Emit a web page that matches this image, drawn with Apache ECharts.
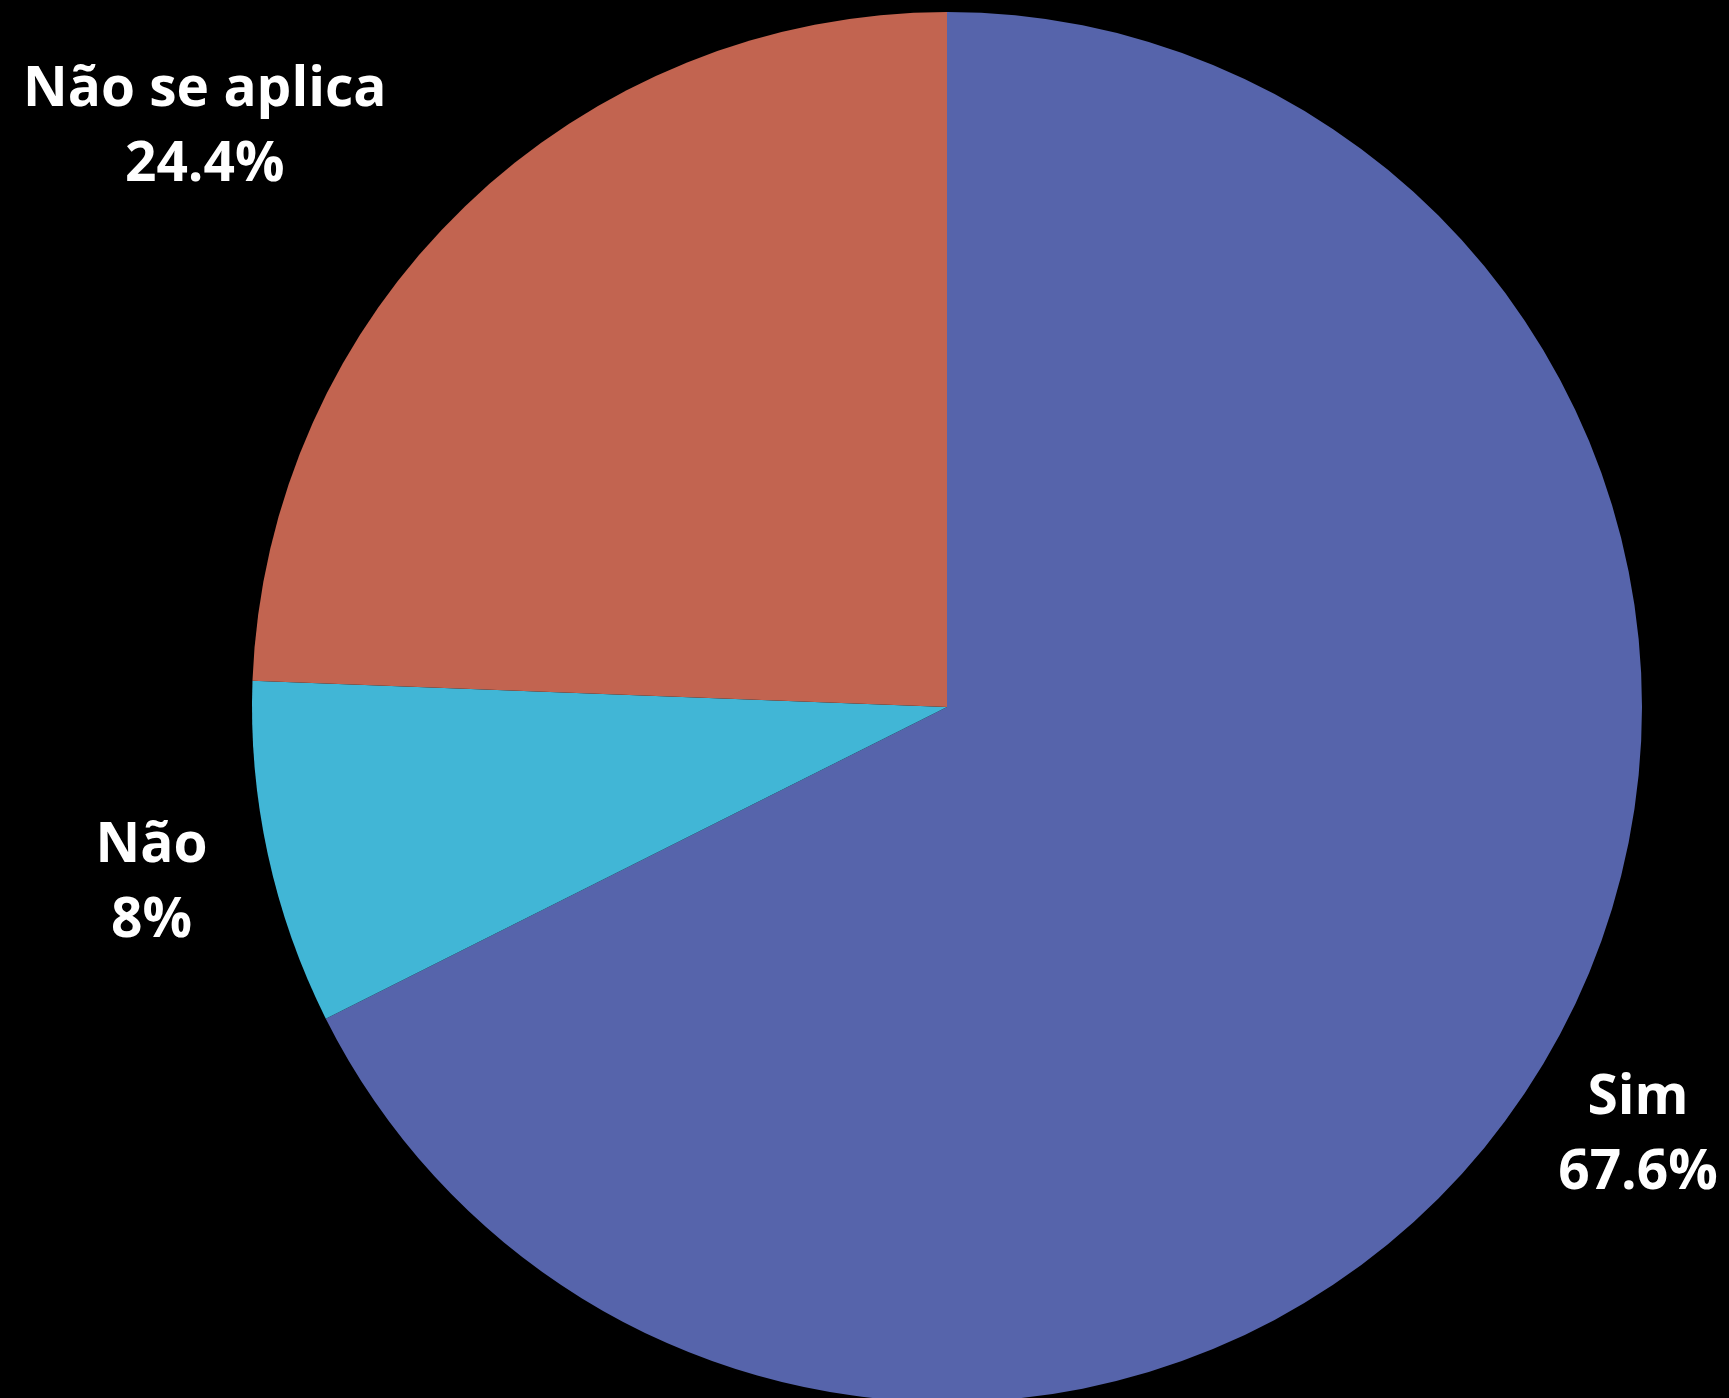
<!DOCTYPE html>
<html>
<head>
<meta charset="utf-8">
<script src="https://cdn.jsdelivr.net/npm/echarts@6/dist/echarts.min.js"></script>
<style>
html,body{margin:0;padding:0;background:#000;}
#chart{width:1729px;height:1398px;}
</style>
</head>
<body>
<div id="chart"></div>
<script>
const categories = ['Sim', 'Não', 'Não se aplica'];
const values = [67.6, 8, 24.4];
const colors = ['#5664AB', '#41B6D6', '#C26450'];

const cx = 947, cy = 707, R = 695;
const total = values.reduce((a, b) => a + b, 0);
const labelDist = [812, 814, 812];
const labelShift = [[0, 2], [0, 4], [-179, 6]];

const chart = echarts.init(document.getElementById('chart'));
chart.setOption({
  backgroundColor: '#000000',
  animation: false,
  series: [{
    type: 'pie',
    center: [cx, cy],
    radius: R,
    startAngle: 90,
    clockwise: true,
    data: categories.map((c, i) => ({ name: c, value: values[i], itemStyle: { color: colors[i] } })),
    label: {
      show: true,
      position: 'outside',
      formatter: '{b}\n{c}%',
      color: '#ffffff',
      fontFamily: 'Open Sans',
      fontWeight: 'bold',
      fontSize: 55,
      lineHeight: 75,
      align: 'center',
      overflow: 'none',
      edgeDistance: 0,
      bleedMargin: 0
    },
    labelLine: { show: false },
    labelLayout: function (p) {
      const i = p.dataIndex;
      let cum = 0;
      for (let k = 0; k < i; k++) cum += values[k];
      const mid = (cum + values[i] / 2) / total * 2 * Math.PI;
      const x = cx + Math.sin(mid) * labelDist[i] + labelShift[i][0];
      const y = cy - Math.cos(mid) * labelDist[i] + labelShift[i][1];
      return { x: x, y: y, align: 'center', verticalAlign: 'middle' };
    },
    emphasis: { disabled: true }
  }]
});
</script>
</body>
</html>
